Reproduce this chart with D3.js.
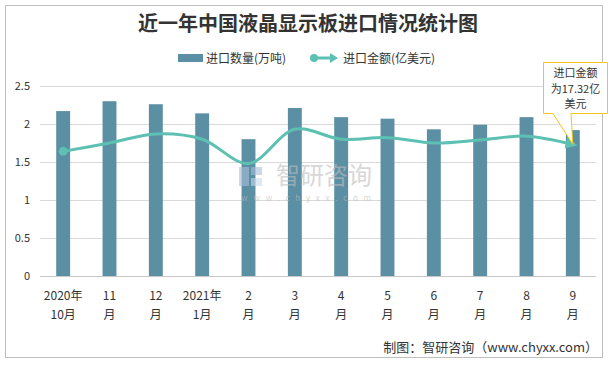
<!DOCTYPE html>
<html><head><meta charset="utf-8">
<script src="https://cdn.jsdelivr.net/npm/d3@7/dist/d3.min.js"></script>
<style>body{margin:0;background:#fff;font-family:"Noto Sans CJK SC","Noto Sans",sans-serif;}</style>
</head><body><svg id="c" width="616" height="368"></svg>
<script>
const categories = ["2020年|10月","11|月","12|月","2021年|1月","2|月","3|月","4|月","5|月","6|月","7|月","8|月","9|月"];
const volume = [2.17,2.30,2.26,2.14,1.80,2.21,2.09,2.07,1.93,1.99,2.09,1.92];
const value = [1.64,1.75,1.87,1.80,1.48,1.93,1.80,1.82,1.75,1.79,1.84,1.732];
const yTicks = [0,0.5,1,1.5,2,2.5];

const svg = d3.select("#c");
svg.append("rect").attr("x",5.5).attr("y",5.5).attr("width",597).attr("height",352).attr("fill","#fff").attr("stroke","#bfbfbf");

const x = d3.scaleBand().domain(categories).range([40,596]).paddingInner(0.7).paddingOuter(0.35);
const y = d3.scaleLinear().domain([0,2.5]).range([276,86]);

// grid
svg.append("g").selectAll("line").data(yTicks).join("line")
  .attr("x1",40).attr("x2",596).attr("y1",d=>y(d)+0.5).attr("y2",d=>y(d)+0.5)
  .attr("stroke",d=>d===0?"#c8c8c8":"#d9d9d9");
svg.append("g").selectAll("text").data(yTicks).join("text")
  .attr("x",30).attr("y",d=>y(d)+4).attr("text-anchor","end")
  .attr("font-size",11).attr("fill","#333").text(d=>d);

// bars
svg.append("g").selectAll("rect").data(volume).join("rect")
  .attr("x",(d,i)=>x(categories[i])).attr("width",x.bandwidth())
  .attr("y",d=>y(d)).attr("height",d=>y(0)-y(d)).attr("fill","#5b8fa4");

// line
const cx = i => x(categories[i]) + x.bandwidth()/2;
const line = d3.line().x((d,i)=>cx(i)).y(d=>y(d)).curve(d3.curveCatmullRom.alpha(0.5));
svg.append("defs").append("marker").attr("id","arr").attr("viewBox","0 0 10 10").attr("refX",6).attr("refY",5)
  .attr("markerWidth",4).attr("markerHeight",4).attr("orient","auto")
  .append("path").attr("d","M0,0L10,5L0,10z").attr("fill","#5cc0b2");
svg.append("path").datum(value).attr("d",line).attr("fill","none").attr("stroke","#5cc0b2").attr("stroke-width",3).attr("marker-end","url(#arr)");
svg.append("circle").attr("cx",cx(0)).attr("cy",y(value[0])).attr("r",4.5).attr("fill","#5cc0b2");

// watermark (on top, semi-transparent)
const wm = svg.append("g").attr("opacity",0.6);
wm.append("text").attr("x",324).attr("y",184).attr("text-anchor","middle").attr("font-size",24).attr("fill","#bdbdbd").text("智研咨询");
wm.append("rect").attr("x",239).attr("y",167).attr("width",10).attr("height",19).attr("fill","#a9bfd8");
wm.append("rect").attr("x",251).attr("y",167).attr("width",11).attr("height",8).attr("fill","#a9bfd8");
wm.append("rect").attr("x",251).attr("y",178).attr("width",11).attr("height",8).attr("fill","#c9d9ea");
wm.append("text").attr("x",309).attr("y",201).attr("text-anchor","middle").attr("font-size",8).attr("letter-spacing",5.8).attr("fill","#bdbdbd").text("www.chyxx.com");

// x labels
const xl = svg.append("g").selectAll("text").data(categories).join("text")
  .attr("text-anchor","middle").attr("font-size",12).attr("fill","#333");
xl.each(function(d,i){
  const t=d3.select(this); const parts=d.split("|");
  parts.forEach((p,k)=>t.append("tspan").attr("x",cx(i)).attr("y",300+k*19).text(p));
});

// title
svg.append("text").attr("x",308).attr("y",31).attr("text-anchor","middle").attr("font-size",20).attr("font-weight","bold").attr("fill","#333").text("近一年中国液晶显示板进口情况统计图");

// legend
svg.append("rect").attr("x",178).attr("y",54).attr("width",25).attr("height",8).attr("fill","#5b8fa4");
svg.append("text").attr("x",206).attr("y",63).attr("font-size",12).attr("fill","#333").text("进口数量(万吨)");
svg.append("line").attr("x1",313).attr("x2",332).attr("y1",58).attr("y2",58).attr("stroke","#5cc0b2").attr("stroke-width",3);
svg.append("circle").attr("cx",314).attr("cy",58).attr("r",4).attr("fill","#5cc0b2");
svg.append("path").attr("d","M330,53L338,58L330,63z").attr("fill","#5cc0b2");
svg.append("text").attr("x",343).attr("y",63).attr("font-size",12).attr("fill","#333").text("进口金额(亿美元)");

// callout
const px = cx(11), py = y(value[11]);
svg.append("path").attr("d",`M543.5,62.5H607.5V113.5H${571}L${px},${py}L553,113.5H543.5Z`)
  .attr("fill","#fff").attr("stroke","#f5c518").attr("stroke-width",1);
["进口金额","为17.32亿","美元"].forEach((s,k)=>svg.append("text").attr("x",575.5).attr("y",77+k*15.5).attr("text-anchor","middle").attr("font-size",11).attr("fill","#333").text(s));

// source
svg.append("text").attr("x",598).attr("y",352).attr("text-anchor","end").attr("font-size",13).attr("fill","#333").text("制图：智研咨询（www.chyxx.com）");
</script></body></html>
